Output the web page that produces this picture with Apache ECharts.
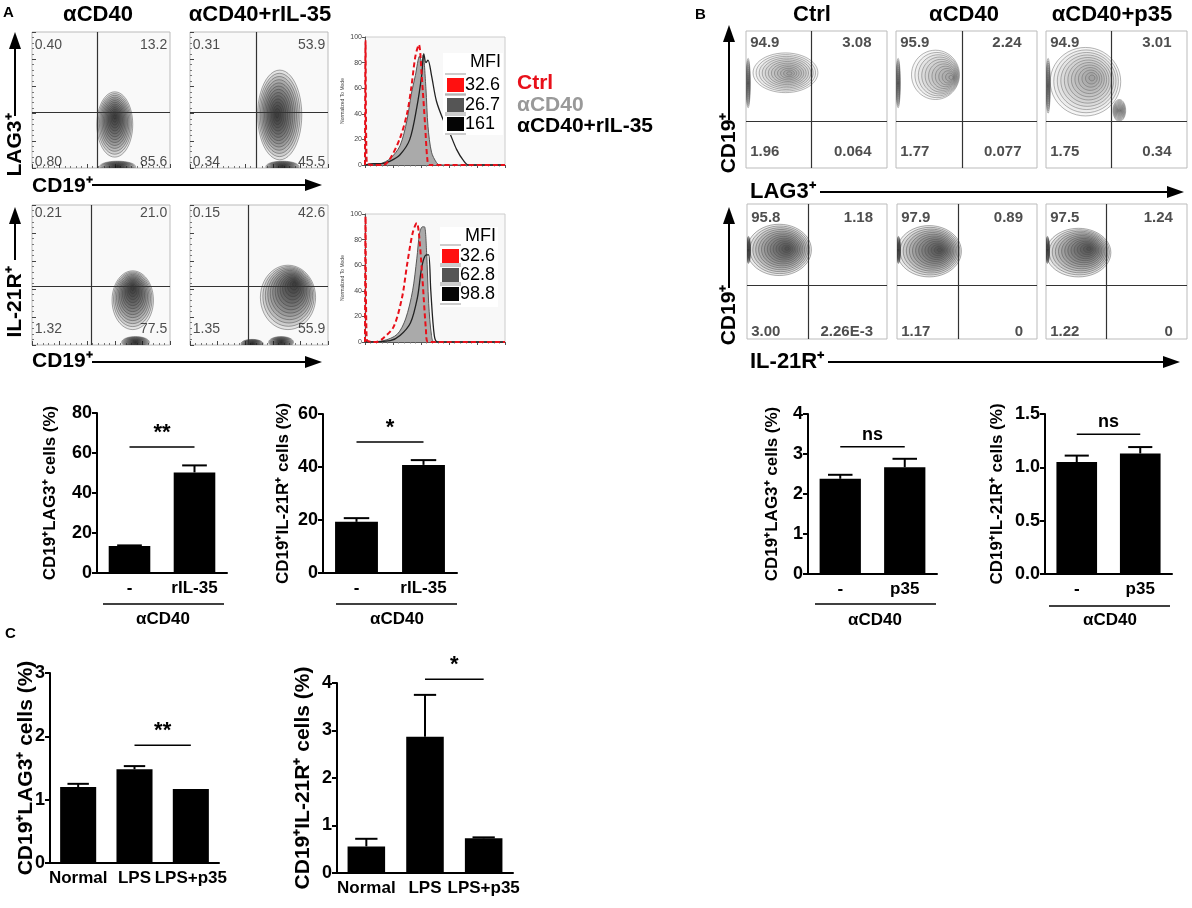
<!DOCTYPE html>
<html>
<head>
<meta charset="utf-8">
<script src="https://cdn.jsdelivr.net/npm/echarts@6/dist/echarts.min.js"></script>
<style>
  html, body { margin: 0; padding: 0; background: #fff; }
  #main { width: 1192px; height: 908px; }
</style>
</head>
<body>
<div id="main"></div>
<script>
var FF = '"Liberation Sans", Arial, sans-serif';

// ---- flow plots: quadrant percentages [UL, UR, LL, LR]
var quadA1 = ['0.40', '13.2', '0.80', '85.6'];
var quadA2 = ['0.31', '53.9', '0.34', '45.5'];
var quadA3 = ['0.21', '21.0', '1.32', '77.5'];
var quadA4 = ['0.15', '42.6', '1.35', '55.9'];
var quadB1 = ['94.9', '3.08', '1.96', '0.064'];
var quadB2 = ['95.9', '2.24', '1.77', '0.077'];
var quadB3 = ['94.9', '3.01', '1.75', '0.34'];
var quadB4 = ['95.8', '1.18', '3.00', '2.26E-3'];
var quadB5 = ['97.9', '0.89', '1.17', '0'];
var quadB6 = ['97.5', '1.24', '1.22', '0'];

// gates [x, y] in channel units (0-100)
var gateA1 = [47, 41], gateA2 = [48, 41], gateA3 = [43, 42], gateA4 = [42, 42];
var gateB1 = [46, 34], gateB2 = [47, 34], gateB3 = [46, 34];
var gateB4 = [44, 40], gateB5 = [44, 40], gateB6 = [43, 40];

// populations: [coreX, coreY, outerX, outerY, spreadX, spreadY]
var popA1 = [[60, 38, 60, 32, 13, 24], [62, 1, 62, 1, 13, 4]];
var popA2 = [[63, 39, 65, 39, 16, 33], [67, 1, 67, 1, 12, 4]];
var popA3 = [[73, 41, 73, 32, 15, 21], [75, 2, 75, 2, 10, 4]];
var popA4 = [[76, 44, 71, 34, 20, 23], [66, 2, 66, 2, 9, 4], [45, 1, 45, 1, 8, 3]];
var popB1 = [[31, 69, 28, 69.5, 23, 14.5], [1.5, 62, 1.5, 62, 1.5, 18]];
var popB2 = [[40, 66, 28, 68, 17, 18], [1.5, 62, 1.5, 62, 1.5, 18]];
var popB3 = [[33, 66, 28, 63, 25, 25], [52, 42, 52, 42, 4.5, 8], [1.5, 60, 1.5, 60, 1.5, 20]];
var popB4 = [[29, 67, 23, 66, 23, 19], [1, 66, 1, 66, 1.5, 10]];
var popB5 = [[31, 66, 23, 65, 23, 19], [1, 66, 1, 66, 1.5, 10]];
var popB6 = [[31, 67, 23, 64, 23, 18], [1, 66, 1, 66, 1.5, 10]];

// ---- histograms [intensity, % of mode]
var histLagCtrl = [[0, 0], [0.4, 97], [1.2, 2], [5, 0], [13, 0], [18, 5], [25, 21], [30, 40], [33, 60], [36, 85], [38.5, 94], [40.5, 70], [43, 30], [44.5, 5], [46, 0], [100, 0]];
var histLagCd40 = [[0, 0], [11, 1], [18, 5], [25, 15], [30, 35], [33, 55], [36, 70], [39, 85], [40.5, 80], [41.5, 86], [43.5, 60], [45, 30], [47.5, 10], [51, 2], [53.5, 0], [100, 0]];
var histLagIl35 = [[0, 0], [6, 1], [12, 1], [18, 3], [25, 8], [32, 20], [37, 45], [40.5, 70], [42, 87], [43.5, 80], [45, 82], [47.5, 70], [51, 50], [56, 35], [60.5, 25], [65.5, 12], [70, 4], [74, 0], [100, 0]];
var histIlCtrl = [[0, 0], [0.4, 98], [1.2, 2], [8, 0], [13, 3], [20.5, 12], [26.5, 35], [30, 60], [34, 85], [37, 93], [38.5, 85], [41, 50], [43.5, 10], [45, 0], [100, 0]];
var histIlCd40 = [[0, 0], [13, 1], [23, 6], [29, 18], [34, 40], [37, 65], [39, 85], [41, 90], [42.5, 90], [44, 70], [45.5, 30], [47.5, 5], [49.5, 0], [100, 0]];
var histIlIl35 = [[0, 0], [18, 1], [25, 5], [32.5, 15], [37.5, 35], [40, 55], [42, 65], [44, 68], [45.5, 68], [47, 40], [49.5, 5], [52, 0], [100, 0]];
var mfiLag = ['32.6', '26.7', '161'];
var mfiIl = ['32.6', '62.8', '98.8'];
var legendNames = ['Ctrl', 'αCD40', 'αCD40+rIL-35'];

// ---- bar charts
var catA = ['-', 'rIL-35'];
var lagA = [13.5, 50.3], lagAErr = [0.3, 3.5];
var ilA = [19.3, 40.8], ilAErr = [1.4, 1.8];
var catB = ['-', 'p35'];
var lagB = [2.38, 2.67], lagBErr = [0.1, 0.21];
var ilB = [1.05, 1.13], ilBErr = [0.06, 0.06];
var catC = ['Normal', 'LPS', 'LPS+p35'];
var lagC = [1.20, 1.48, 1.17], lagCErr = [0.05, 0.05, 0];
var ilC = [0.56, 2.87, 0.73], ilCErr = [0.16, 0.88, 0.02];
// significance: [from category, to category, level, mark]
var sigA1 = [0, 1, 63, '**'], sigA2 = [0, 1, 49.4, '*'];
var sigB1 = [0, 1, 3.18, 'ns'], sigB2 = [0, 1, 1.31, 'ns'];
var sigC1 = [1, 2, 1.86, '**'], sigC2 = [1, 2, 4.08, '*'];

var grids = [], xAxes = [], yAxes = [], series = [], graphics = [], sigs = [];

function txt(x, y, s, size, opt) {
  opt = opt || {};
  graphics.push({
    type: 'text', x: x, y: y, rotation: opt.rot || 0, z: 20,
    style: { text: s, fontSize: size, fontWeight: opt.weight || 'bold', fontFamily: FF,
      fill: opt.color || '#000', align: opt.align || 'left', verticalAlign: opt.valign || 'middle' }
  });
}
function seg(x1, y1, x2, y2, w, c) {
  graphics.push({ type: 'line', z: 20, shape: { x1: x1, y1: y1, x2: x2, y2: y2 }, style: { stroke: c || '#000', lineWidth: w || 2 } });
}
function hArrow(x1, x2, y) {
  seg(x1, y, x2 - 8, y, 2);
  graphics.push({ type: 'polygon', z: 20, shape: { points: [[x2, y], [x2 - 17, y - 6], [x2 - 17, y + 6]] }, style: { fill: '#000' } });
}
function vArrow(x, y1, y2) {
  seg(x, y1, x, y2 + 8, 2);
  graphics.push({ type: 'polygon', z: 20, shape: { points: [[x, y2], [x - 6, y2 + 17], [x + 6, y2 + 17]] }, style: { fill: '#000' } });
}

function popRender(look) {
  return function (params, api) {
    var core = api.coord([api.value(0), api.value(1)]);
    var outer = api.coord([api.value(2), api.value(3)]);
    var sz = api.size([api.value(4), api.value(5)]);
    var kids = [];
    for (var k = look.rings; k >= 1; k--) {
      var s = k / look.rings;
      var cx = core[0] + (outer[0] - core[0]) * s;
      var cy = core[1] + (outer[1] - core[1]) * s;
      var pts = [];
      for (var a = 0; a < 48; a++) {
        var t = a / 48 * Math.PI * 2;
        pts.push([cx + sz[0] * s * Math.cos(t), cy + sz[1] * s * Math.sin(t)]);
      }
      kids.push({ type: 'polygon', shape: { points: pts },
        style: { fill: 'rgba(0,0,0,' + look.fill + ')', stroke: look.stroke, lineWidth: 0.6 } });
    }
    return { type: 'group', children: kids };
  };
}

function flowPlot(box, pops, quad, gate, look, pos) {
  var g = grids.length;
  grids.push({ left: box[0], top: box[1], width: box[2], height: box[3], show: true,
    borderColor: '#bbb', borderWidth: 1, backgroundColor: look.bg, containLabel: false });
  function ax() {
    return { gridIndex: g, type: 'value', min: 0, max: 100, interval: 20,
      axisLine: { show: false }, axisLabel: { show: false }, splitLine: { show: false },
      axisTick: { show: look.ticks, inside: true, length: 4, lineStyle: { color: '#444' } },
      minorTick: { show: look.ticks, splitNumber: 5, length: 2, lineStyle: { color: '#777' } } };
  }
  xAxes.push(ax()); yAxes.push(ax());
  series.push({ type: 'custom', xAxisIndex: g, yAxisIndex: g, clip: true, silent: true, z: 2,
    renderItem: popRender(look), data: pops });
  var qd = quad.map(function (t, i) {
    return { value: pos[i], label: { formatter: t, align: i % 2 ? 'right' : 'left' } };
  });
  series.push({ type: 'scatter', xAxisIndex: g, yAxisIndex: g, symbolSize: 1, z: 5, silent: true,
    itemStyle: { color: 'rgba(0,0,0,0)' },
    label: { show: true, position: 'inside', fontSize: look.font, fontWeight: look.weight,
      color: '#222', fontFamily: FF },
    data: qd,
    markLine: { silent: true, symbol: ['none', 'none'], label: { show: false },
      lineStyle: { color: '#333', width: 1.2, type: 'solid' },
      data: [{ xAxis: gate[0] }, { yAxis: gate[1] }] } });
}

function histPlot(box, ctrl, cd40, il35) {
  var g = grids.length;
  grids.push({ left: box[0], top: box[1], width: box[2], height: box[3], show: true,
    borderColor: '#ccc', borderWidth: 1, backgroundColor: '#f8f8f8', containLabel: false });
  xAxes.push({ gridIndex: g, type: 'value', min: 0, max: 100, interval: 20,
    axisLine: { lineStyle: { color: '#555' } }, axisLabel: { show: false }, splitLine: { show: false },
    axisTick: { length: 3, lineStyle: { color: '#555' } },
    minorTick: { show: true, splitNumber: 5, length: 1.5, lineStyle: { color: '#777' } } });
  yAxes.push({ gridIndex: g, type: 'value', min: 0, max: 100, interval: 20,
    name: 'Normalized To Mode', nameLocation: 'middle', nameGap: 20,
    nameTextStyle: { fontSize: 5, color: '#444', fontFamily: FF },
    axisLine: { show: true, lineStyle: { color: '#555' } }, splitLine: { show: false },
    axisTick: { show: true, length: 3, lineStyle: { color: '#555' } },
    axisLabel: { fontSize: 7, color: '#444', margin: 3, fontFamily: FF } });
  series.push({ type: 'line', xAxisIndex: g, yAxisIndex: g, data: cd40, smooth: 0.3, symbol: 'none',
    lineStyle: { color: '#555', width: 1 }, areaStyle: { color: '#aaa', opacity: 1 }, z: 2 });
  series.push({ type: 'line', xAxisIndex: g, yAxisIndex: g, data: il35, smooth: 0.3, symbol: 'none',
    lineStyle: { color: '#222', width: 1.3 }, z: 3 });
  series.push({ type: 'line', xAxisIndex: g, yAxisIndex: g, data: ctrl, smooth: 0.3, symbol: 'none',
    lineStyle: { color: '#e8101a', width: 2, type: [5, 3] }, z: 4 });
}

function mfiBox(rect, mfiY, rowY, sqX, vals) {
  graphics.push({ type: 'rect', z: 15, shape: { x: rect[0], y: rect[1], width: rect[2], height: rect[3] }, style: { fill: '#fff' } });
  txt(rect[0] + rect[2] - 2, mfiY, 'MFI', 18, { weight: 'normal', align: 'right' });
  var cols = ['#ff1010', '#555', '#050505'];
  for (var i = 0; i < 3; i++) {
    graphics.push({ type: 'rect', z: 20, shape: { x: sqX, y: rowY[i] - 7, width: 17, height: 14 }, style: { fill: cols[i] } });
    seg(sqX - 2, rowY[i] - 11, sqX + 19, rowY[i] - 11, 1, '#999');
    seg(sqX - 2, rowY[i] + 10, sqX + 19, rowY[i] + 10, 1, '#999');
    txt(sqX + 18, rowY[i], vals[i], 18, { weight: 'normal' });
  }
}

function errRender(params, api) {
  var e = api.value(2);
  if (!e) return;
  var base = api.coord([api.value(0), api.value(1)]);
  var tip = api.coord([api.value(0), api.value(1) + e]);
  var half = api.size([1, 0])[0] * 0.19;
  return { type: 'group', children: [
    { type: 'line', shape: { x1: base[0], y1: base[1], x2: tip[0], y2: tip[1] }, style: { stroke: '#000', lineWidth: 2 } },
    { type: 'line', shape: { x1: tip[0] - half, y1: tip[1], x2: tip[0] + half, y2: tip[1] }, style: { stroke: '#000', lineWidth: 2 } }
  ] };
}

function barChart(box, cats, vals, errs, ymax, step, dec, name, nameSize, nameGap, sig, labSize) {
  var g = grids.length;
  grids.push({ left: box[0], top: box[1], width: box[2], height: box[3], containLabel: false });
  xAxes.push({ gridIndex: g, type: 'category', data: cats,
    axisLine: { lineStyle: { color: '#000', width: 2 } },
    axisTick: { alignWithLabel: true, length: 5, lineStyle: { color: '#000', width: 2 } },
    axisLabel: { color: '#000', fontWeight: 'bold', fontSize: labSize, margin: 7, fontFamily: FF, interval: 0 },
    splitLine: { show: false } });
  yAxes.push({ gridIndex: g, type: 'value', min: 0, max: ymax, interval: step,
    name: name, nameLocation: 'middle', nameGap: nameGap, nameRotate: 90, nameMoveOverlap: false,
    nameTextStyle: { color: '#000', fontWeight: 'bold', fontSize: nameSize, fontFamily: FF },
    axisLine: { show: true, lineStyle: { color: '#000', width: 2 } },
    axisTick: { show: true, length: 5, lineStyle: { color: '#000', width: 2 } },
    axisLabel: { color: '#000', fontWeight: 'bold', fontSize: 18, margin: 5, fontFamily: FF,
      formatter: function (v) { return v.toFixed(dec); } },
    splitLine: { show: false } });
  series.push({ type: 'bar', xAxisIndex: g, yAxisIndex: g, data: vals, barWidth: '64%',
    itemStyle: { color: '#000' }, z: 2 });
  series.push({ type: 'custom', xAxisIndex: g, yAxisIndex: g, renderItem: errRender, z: 3,
    data: vals.map(function (v, i) { return [i, v, errs[i]]; }) });
  sigs.push({ grid: g, sig: sig });
}

// ---- panel A
var lookA = { bg: '#f9f9f9', ticks: true, rings: 14, fill: 0.09, stroke: 'rgba(50,50,50,0.7)', font: 14, weight: 'normal' };
var posA1 = [[2, 90], [98, 90], [2, 4], [98, 4]];
var posA2 = [[2, 94], [98, 94], [2, 11], [98, 11]];
flowPlot([32, 32, 138, 136], popA1, quadA1, gateA1, lookA, posA1);
flowPlot([190, 32, 138, 136], popA2, quadA2, gateA2, lookA, posA1);
flowPlot([32, 205, 138, 140], popA3, quadA3, gateA3, lookA, posA2);
flowPlot([190, 205, 138, 140], popA4, quadA4, gateA4, lookA, posA2);
histPlot([365, 37, 140, 128], histLagCtrl, histLagCd40, histLagIl35);
histPlot([365, 214, 140, 128], histIlCtrl, histIlCd40, histIlIl35);
mfiBox([443, 53, 60, 82], 62, [85, 105, 124], 447, mfiLag);
mfiBox([440, 227, 58, 80], 236, [256, 275, 294], 442, mfiIl);
txt(517, 83, legendNames[0], 21, { color: '#e8101a' });
txt(517, 105, legendNames[1], 21, { color: '#999' });
txt(517, 126, legendNames[2], 21, { color: '#000' });

txt(3, 13, 'A', 15);
txt(98, 15, 'αCD40', 22, { align: 'center' });
txt(260, 15, 'αCD40+rIL-35', 22, { align: 'center' });
txt(15, 145, 'LAG3⁺', 21, { align: 'center', rot: Math.PI / 2 });
vArrow(15, 116, 32);
txt(15, 302, 'IL-21R⁺', 21, { align: 'center', rot: Math.PI / 2 });
vArrow(15, 260, 207);
txt(32, 186, 'CD19⁺', 21);
hArrow(92, 322, 185);
txt(32, 361, 'CD19⁺', 21);
hArrow(92, 322, 362);

// ---- panel B
var lookB1 = { bg: '#fff', ticks: false, rings: 12, fill: 0.035, stroke: 'rgba(90,90,90,0.75)', font: 15, weight: 'bold' };
var lookB2 = { bg: '#fff', ticks: false, rings: 14, fill: 0.075, stroke: 'rgba(70,70,70,0.75)', font: 15, weight: 'bold' };
var posB1 = [[3, 91], [89, 91], [3, 12], [89, 12]];
var posB2 = [[3, 90], [90, 90], [3, 5], [90, 5]];
flowPlot([746, 31, 141, 137], popB1, quadB1, gateB1, lookB1, posB1);
flowPlot([896, 31, 141, 137], popB2, quadB2, gateB2, lookB1, posB1);
flowPlot([1046, 31, 141, 137], popB3, quadB3, gateB3, lookB1, posB1);
flowPlot([747, 204, 140, 135], popB4, quadB4, gateB4, lookB2, posB2);
flowPlot([897, 204, 140, 135], popB5, quadB5, gateB5, lookB2, posB2);
flowPlot([1046, 204, 141, 135], popB6, quadB6, gateB6, lookB2, posB2);

txt(695, 15, 'B', 15);
txt(812, 15, 'Ctrl', 22, { align: 'center' });
txt(964, 15, 'αCD40', 22, { align: 'center' });
txt(1112, 15, 'αCD40+p35', 22, { align: 'center' });
txt(729, 143, 'CD19⁺', 21, { align: 'center', rot: Math.PI / 2 });
vArrow(729, 120, 25);
txt(729, 315, 'CD19⁺', 21, { align: 'center', rot: Math.PI / 2 });
vArrow(729, 288, 207);
txt(750, 192, 'LAG3⁺', 22);
hArrow(820, 1184, 192);
txt(750, 362, 'IL-21R⁺', 22);
hArrow(828, 1180, 362);

// ---- bar charts
barChart([97, 413, 130, 160], catA, lagA, lagAErr, 80, 20, 0, 'CD19⁺LAG3⁺ cells (%)', 17, 38, sigA1, 17);
barChart([323, 414, 134, 159], catA, ilA, ilAErr, 60, 20, 0, 'CD19⁺IL-21R⁺ cells (%)', 17, 31, sigA2, 17);
barChart([808, 414, 129, 160], catB, lagB, lagBErr, 4, 1, 0, 'CD19⁺LAG3⁺ cells (%)', 17, 27, sigB1, 17);
barChart([1045, 414, 127, 160], catB, ilB, ilBErr, 1.5, 0.5, 1, 'CD19⁺IL-21R⁺ cells (%)', 17, 39, sigB2, 17);
barChart([50, 673, 169, 190], catC, lagC, lagCErr, 3, 1, 0, 'CD19⁺LAG3⁺ cells (%)', 21, 13, sigC1, 17);
barChart([337, 683, 176, 190], catC, ilC, ilCErr, 4, 1, 0, 'CD19⁺IL-21R⁺ cells (%)', 21, 23, sigC2, 17);

seg(103, 604, 224, 604, 1.5); txt(163, 619, 'αCD40', 17, { align: 'center' });
seg(336, 604, 457, 604, 1.5); txt(397, 619, 'αCD40', 17, { align: 'center' });
seg(815, 604, 936, 604, 1.5); txt(875, 620, 'αCD40', 17, { align: 'center' });
seg(1049, 606, 1170, 606, 1.5); txt(1110, 620, 'αCD40', 17, { align: 'center' });
txt(5, 634, 'C', 15);

var chart = echarts.init(document.getElementById('main'), null, { renderer: 'canvas' });
var option = {
  animation: false,
  backgroundColor: '#fff',
  textStyle: { fontFamily: FF },
  grid: grids,
  xAxis: xAxes,
  yAxis: yAxes,
  series: series,
  graphic: graphics
};
chart.setOption(option);

// significance brackets placed through each chart's own scales (they may sit above the axis max)
sigs.forEach(function (s) {
  var p1 = chart.convertToPixel({ gridIndex: s.grid }, [s.sig[0], s.sig[2]]);
  var p2 = chart.convertToPixel({ gridIndex: s.grid }, [s.sig[1], s.sig[2]]);
  seg(p1[0], p1[1], p2[0], p2[1], 1.5);
  txt((p1[0] + p2[0]) / 2, p1[1] - 3, s.sig[3], s.sig[3] === 'ns' ? 18 : 22, { align: 'center', valign: 'bottom' });
});
chart.setOption({ graphic: graphics });
</script>
</body>
</html>
